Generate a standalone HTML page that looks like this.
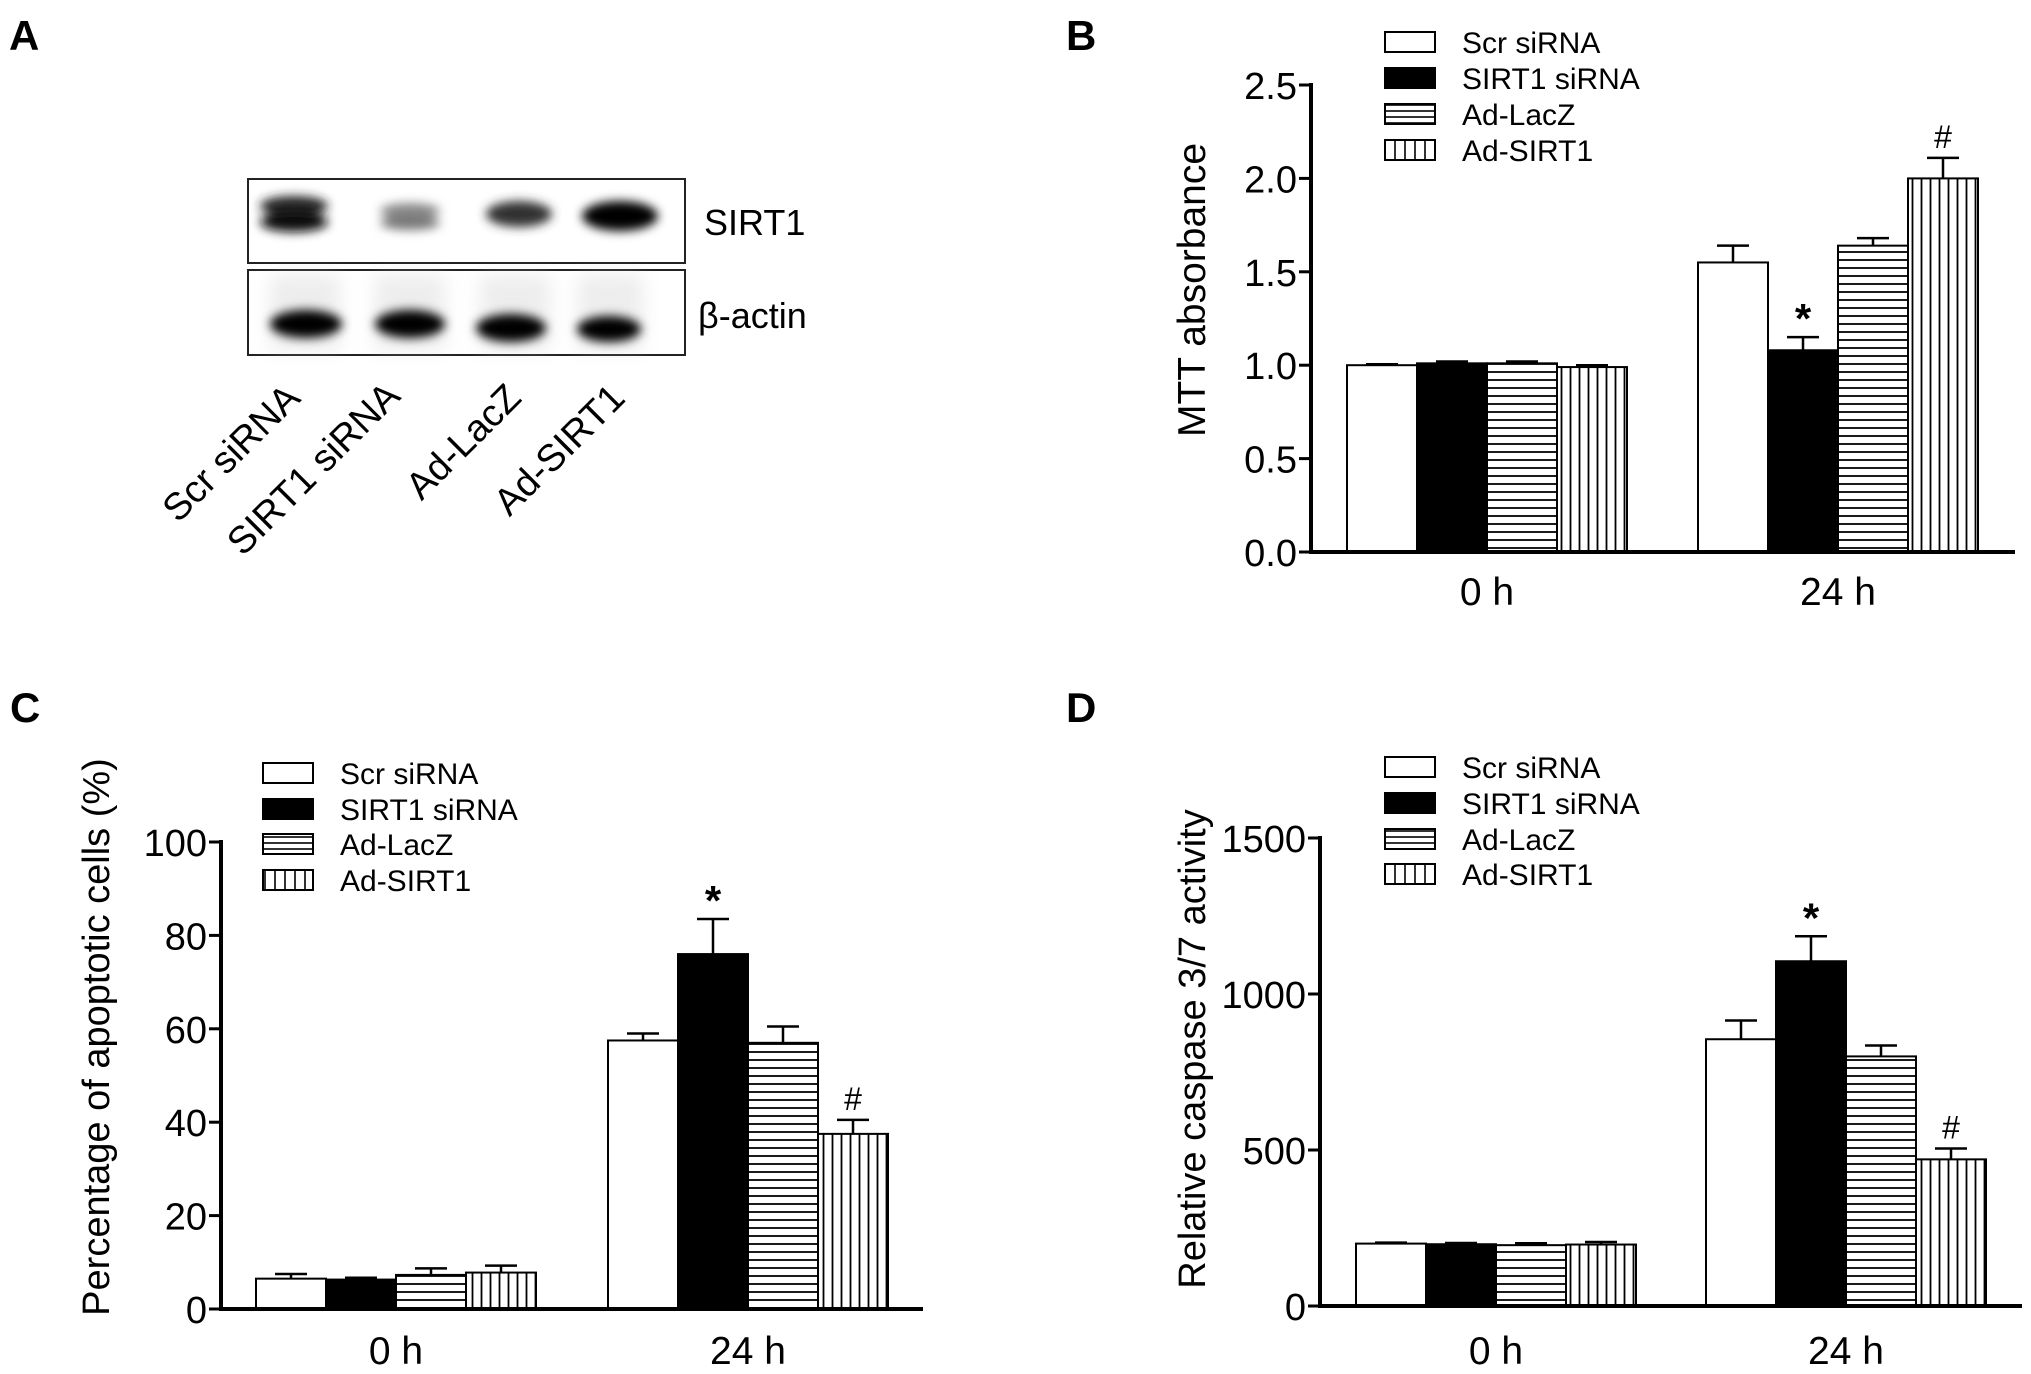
<!DOCTYPE html>
<html><head><meta charset="utf-8"><style>
html,body{margin:0;padding:0;background:#fff;}
svg{display:block;font-family:"Liberation Sans",Arial,sans-serif;}
</style></head><body>
<svg id="fig" width="2031" height="1374" viewBox="0 0 2031 1374" xmlns="http://www.w3.org/2000/svg">
<defs>
<pattern id="hpat" patternUnits="userSpaceOnUse" width="10" height="8"><rect width="10" height="8" fill="#fff"/><line x1="0" y1="4" x2="10" y2="4" stroke="#000" stroke-width="1.8"/></pattern>
<pattern id="vpat" patternUnits="userSpaceOnUse" width="9" height="10"><rect width="9" height="10" fill="#fff"/><line x1="4.5" y1="0" x2="4.5" y2="10" stroke="#000" stroke-width="1.8"/></pattern>
<pattern id="lhpat" patternUnits="userSpaceOnUse" width="10" height="6"><rect width="10" height="6" fill="#fff"/><line x1="0" y1="3" x2="10" y2="3" stroke="#000" stroke-width="1.6"/></pattern>
<pattern id="lvpat" patternUnits="userSpaceOnUse" width="10" height="10"><rect width="10" height="10" fill="#fff"/><line x1="5" y1="0" x2="5" y2="10" stroke="#000" stroke-width="1.6"/></pattern>
<filter id="blur" x="-30%" y="-60%" width="160%" height="220%"><feGaussianBlur stdDeviation="5"/></filter>
<filter id="blur2" x="-30%" y="-60%" width="160%" height="220%"><feGaussianBlur stdDeviation="9"/></filter>
</defs>

<g>
<text x="9" y="50" font-size="42" font-weight="bold">A</text>
<g>
<rect x="248" y="179" width="437" height="84" fill="#fff" stroke="#222" stroke-width="2"/>
<g filter="url(#blur)">
<ellipse cx="294" cy="206" rx="34" ry="10" fill="#222"/>
<ellipse cx="294" cy="222" rx="34" ry="10" fill="#111"/>
<ellipse cx="410" cy="211" rx="30" ry="8" fill="#888"/>
<ellipse cx="410" cy="223" rx="30" ry="7" fill="#777"/>
<ellipse cx="519" cy="214" rx="33" ry="13" fill="#333"/>
<ellipse cx="620" cy="216" rx="38" ry="15" fill="#000"/>
</g>
</g>
<g>
<rect x="248" y="270" width="437" height="85" fill="#fff" stroke="#222" stroke-width="2"/>
<g filter="url(#blur2)" opacity="0.35">
<rect x="270" y="275" width="70" height="75" fill="#ccc"/><rect x="375" y="275" width="70" height="75" fill="#ccc"/><rect x="480" y="275" width="70" height="75" fill="#ccc"/><rect x="578" y="275" width="65" height="75" fill="#ccc"/>
</g>
<g filter="url(#blur)">
<ellipse cx="306" cy="324" rx="36" ry="14" fill="#000"/>
<ellipse cx="410" cy="324" rx="35" ry="14" fill="#000"/>
<ellipse cx="511" cy="328" rx="35" ry="14" fill="#000"/>
<ellipse cx="609" cy="329" rx="32" ry="13" fill="#000"/>
</g>
</g>
<text x="704" y="235" font-size="36">SIRT1</text>
<text x="698" y="328" font-size="36">β-actin</text>
<g font-size="38" text-anchor="end">
<text transform="translate(302,400) rotate(-45)">Scr siRNA</text>
<text transform="translate(402,398) rotate(-45)">SIRT1 siRNA</text>
<text transform="translate(523,400) rotate(-45)">Ad-LacZ</text>
<text transform="translate(627,400) rotate(-45)">Ad-SIRT1</text>
</g>
</g>

<g id="charts"></g>
</svg>
<script>
const seriesNames = ["Scr siRNA","SIRT1 siRNA","Ad-LacZ","Ad-SIRT1"];
const groupLabels = ["0 h","24 h"];
// Panel B
const bValues0 = [1.0, 1.01, 1.01, 0.99];
const bErr0 = [0.005, 0.01, 0.01, 0.01];
const bValues24 = [1.55, 1.08, 1.64, 2.0];
const bErr24 = [0.09, 0.07, 0.04, 0.11];
const bTicks = ["0.0","0.5","1.0","1.5","2.0","2.5"];
const bTickValues = [0,0.5,1.0,1.5,2.0,2.5];
const bMarks = ["","*","","#"];
// Panel C
const cValues0 = [6.5, 6.3, 7.3, 7.8];
const cErr0 = [1.0, 0.4, 1.4, 1.5];
const cValues24 = [57.5, 76, 57, 37.5];
const cErr24 = [1.5, 7.5, 3.5, 3.0];
const cTicks = ["0","20","40","60","80","100"];
const cTickValues = [0,20,40,60,80,100];
const cMarks = ["","*","","#"];
// Panel D
const dValues0 = [200, 198, 195, 197];
const dErr0 = [3, 4, 6, 8];
const dValues24 = [855, 1105, 800, 470];
const dErr24 = [60, 80, 35, 35];
const dTicks = ["0","500","1000","1500"];
const dTickValues = [0,500,1000,1500];
const dMarks = ["","*","","#"];

const NS="http://www.w3.org/2000/svg";
const root=document.getElementById('charts');
const fills=["#fff","#000","url(#hpat)","url(#vpat)"];
const lfills=["#fff","#000","url(#lhpat)","url(#lvpat)"];
function mk(tag,attrs,parent){const e=document.createElementNS(NS,tag);for(const k in attrs)e.setAttribute(k,attrs[k]);parent.appendChild(e);return e;}

function panel(cfg){
  const g=mk('g',{},root);
  
  
  const ymax=cfg.tickValues[cfg.tickValues.length-1];
  const yS=v=>cfg.y0-(v/ymax)*(cfg.y0-cfg.yTop);
  const L=mk('text',{x:cfg.letterX,y:cfg.letterY,'font-size':42,'font-weight':'bold'},g);
  L.textContent=cfg.letter;
  
  
  const groups=[[cfg.v0,cfg.e0],[cfg.v24,cfg.e24]];
  groups.forEach((gr,gi)=>{
    const gx=cfg.groupX[gi];
    gr[0].forEach((v,i)=>{
      const x=gx+i*cfg.bw, y=yS(v);
      const r=mk('rect',{x:x,y:y,width:cfg.bw,height:cfg.y0-y,fill:fills[i],stroke:'#000','stroke-width':2},g);
      
      
      const ye=yS(v+gr[1][i]), cx=x+cfg.bw/2;
      const el=mk('path',{d:`M${cx},${y} V${ye} M${cx-16},${ye} H${cx+16}`,stroke:'#000','stroke-width':2.5,fill:'none'},g);
      
      
      if(gi===1 && cfg.marks[i]){
        const star=cfg.marks[i]==='*';
        const t=mk('text',{x:cx,y:ye-(star?4:10),'font-size':star?42:32,'text-anchor':'middle','font-weight':star?'bold':'normal'},g);
        t.textContent=cfg.marks[i];
        
        
      }
    });
    const gl=mk('text',{x:gx+2*cfg.bw,y:cfg.xLabelY,'font-size':39,'text-anchor':'middle'},g);
    gl.textContent=groupLabels[gi];
    
    
  });
  const ya=mk('line',{x1:cfg.ax,y1:cfg.yTop-2,x2:cfg.ax,y2:cfg.y0,stroke:'#000','stroke-width':4},g);
  
  
  const xa=mk('line',{x1:cfg.ax-2,y1:cfg.y0,x2:cfg.xEnd,y2:cfg.y0,stroke:'#000','stroke-width':4},g);
  
  
  cfg.tickValues.forEach((tv,i)=>{
    const y=yS(tv);
    mk('line',{x1:cfg.ax-12,y1:y,x2:cfg.ax,y2:y,stroke:'#000','stroke-width':3},g);
    const t=mk('text',{x:cfg.ax-14,y:y+14,'font-size':38,'text-anchor':'end'},g);
    t.textContent=cfg.ticks[i];
    
    
  });
  const yt=mk('text',{transform:`translate(${cfg.titleX},${cfg.titleY}) rotate(-90)`,'font-size':cfg.titleSize,'text-anchor':'middle'},g);
  yt.textContent=cfg.title;
  
  
  seriesNames.forEach((n,i)=>{
    const y=cfg.legY[i];
    const b=mk('rect',{x:cfg.legX,y:y-10,width:50,height:20,fill:lfills[i],stroke:'#000','stroke-width':2},g);
    
    
    const t=mk('text',{x:cfg.legX+77,y:y+11,'font-size':30},g);
    t.textContent=n;
    
    
  });
}

panel({name:'panel-b-mtt',letter:'B',letterX:1066,letterY:50,ax:1311,y0:552,yTop:85,xEnd:2015,bw:70,groupX:[1347,1698],
  v0:bValues0,e0:bErr0,v24:bValues24,e24:bErr24,ticks:bTicks,tickValues:bTickValues,marks:bMarks,
  xLabelY:605,title:'MTT absorbance',titleSize:39,titleX:1205,titleY:290,legX:1385,legY:[42,78,114,150]});
panel({name:'panel-c-apoptosis',letter:'C',letterX:10,letterY:722,ax:221,y0:1309,yTop:842,xEnd:923,bw:70,groupX:[256,608],
  v0:cValues0,e0:cErr0,v24:cValues24,e24:cErr24,ticks:cTicks,tickValues:cTickValues,marks:cMarks,
  xLabelY:1364,title:'Percentage of apoptotic cells (%)',titleSize:38,titleX:109,titleY:1037,legX:263,legY:[773,809,844,880]});
panel({name:'panel-d-caspase',letter:'D',letterX:1066,letterY:722,ax:1320,y0:1306,yTop:838,xEnd:2022,bw:70,groupX:[1356,1706],
  v0:dValues0,e0:dErr0,v24:dValues24,e24:dErr24,ticks:dTicks,tickValues:dTickValues,marks:dMarks,
  xLabelY:1364,title:'Relative caspase 3/7 activity',titleSize:38,titleX:1205,titleY:1049,legX:1385,legY:[767,803,839,874]});
</script>
</body></html>
